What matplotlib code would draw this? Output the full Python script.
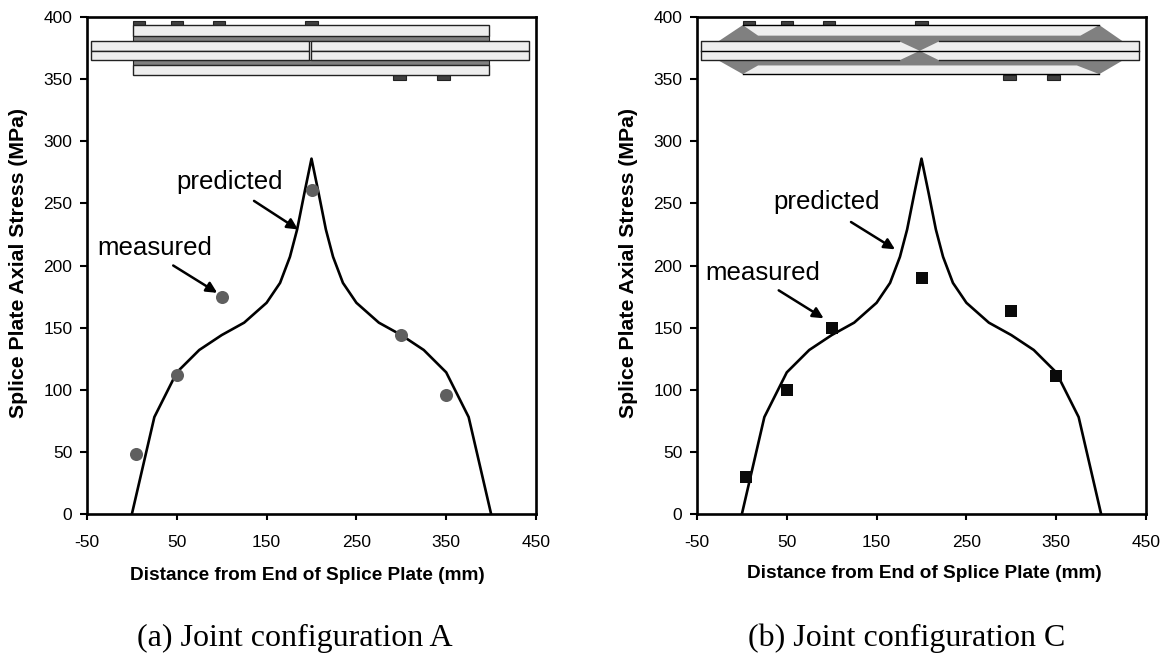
import matplotlib
matplotlib.use('Agg')
import matplotlib.pyplot as plt
from matplotlib.patches import Polygon, Rectangle

plt.rcParams['font.family'] = ['Liberation Sans', 'DejaVu Sans']
plt.rcParams['axes.unicode_minus'] = False

# predicted curve, same for both joints
dist = [0, 25, 50, 75, 100, 125, 150, 165, 176, 184, 192, 200,
        208, 216, 224, 235, 250, 275, 300, 325, 350, 375, 400]
predicted = [0, 78, 114, 132, 144, 154, 170, 186, 207, 229, 258, 286,
             258, 229, 207, 186, 170, 154, 144, 132, 114, 78, 0]

# measured values
meas_x = [5, 50, 100, 200, 300, 350]
meas_a = [48, 112, 175, 261, 144, 96]
meas_c = [30, 100, 150, 190, 163, 111]

x_ticks = [-50, 50, 150, 250, 350, 450]
y_ticks = [0, 50, 100, 150, 200, 250, 300, 350, 400]

xlabel = 'Distance from End of Splice Plate (mm)'
ylabel = 'Splice Plate Axial Stress (MPa)'

# gauge positions on the joint sketch
gauges_top = [8, 50, 97, 200]
gauges_bot = [298, 347]

LIGHT = '#eeeeee'
DARK = '#808080'
EDGE = '#222222'


def draw_gauges(ax):
    for g in gauges_top:
        ax.add_patch(Rectangle((g - 7, 393.5), 14, 3.5, fc='#404040', ec='#222222', lw=0.8, zorder=2))
    for g in gauges_bot:
        ax.add_patch(Rectangle((g - 7, 349), 14, 4.5, fc='#404040', ec='#222222', lw=0.8, zorder=2))


def sketch_a(ax):
    # dark adhesive layers
    ax.add_patch(Rectangle((1, 380.5), 397, 5, fc=DARK, ec=EDGE, lw=0.8, zorder=2))
    ax.add_patch(Rectangle((1, 361), 397, 4.5, fc=DARK, ec=EDGE, lw=0.8, zorder=2))
    # splice plates
    ax.add_patch(Rectangle((1, 385), 397, 8.5, fc=LIGHT, ec=EDGE, lw=1, zorder=3))
    ax.add_patch(Rectangle((1, 353.5), 397, 8, fc=LIGHT, ec=EDGE, lw=1, zorder=3))
    # main plates
    for x0, w in [(-45, 242), (199.5, 242.5)]:
        ax.add_patch(Rectangle((x0, 372.8), w, 7.7, fc=LIGHT, ec=EDGE, lw=1, zorder=3))
        ax.add_patch(Rectangle((x0, 365), w, 7.8, fc=LIGHT, ec=EDGE, lw=1, zorder=3))
    draw_gauges(ax)


def sketch_c(ax):
    # main plates first, the spew fillets sit over them
    ax.add_patch(Rectangle((-45, 365), 487, 15.5, fc=LIGHT, ec='none', zorder=2))
    top = [(-26, 380.5), (1, 393.5), (398, 393.5), (424, 380.5), (220, 380.5), (198, 372.8), (175, 380.5)]
    bot = [(-26, 365), (1, 354), (398, 354), (424, 365), (220, 365), (198, 372.8), (175, 365)]
    ax.add_patch(Polygon(top, fc=DARK, ec='none', zorder=3))
    ax.add_patch(Polygon(bot, fc=DARK, ec='none', zorder=3))
    # splice plates
    ax.add_patch(Polygon([(1, 393.5), (18, 385), (377, 385), (398, 393.5)], fc=LIGHT, ec='none', zorder=4))
    ax.add_patch(Polygon([(1, 354), (18, 361), (373, 361), (398, 354)], fc=LIGHT, ec='none', zorder=4))
    ax.plot([1, 398], [393.5, 393.5], color='black', lw=1, zorder=5)
    ax.plot([1, 398], [354, 354], color='black', lw=1, zorder=5)
    ax.plot([-45, 442], [372.8, 372.8], color='black', lw=1, zorder=5)
    # plate outline, broken where the fillet covers it
    ax.plot([175, -45, -45, 175], [380.5, 380.5, 365, 365], color=EDGE, lw=1, zorder=5)
    ax.plot([220, 442, 442, 220], [380.5, 380.5, 365, 365], color=EDGE, lw=1, zorder=5)
    draw_gauges(ax)


def make_panel(pos, ys, marker, color, size, caption, cap_x, xlab_x, xlab_y, ylab_x, notes):
    ax = fig.add_axes(pos)
    ax.plot(dist, predicted, color='black', lw=1.9, zorder=6)
    ax.plot(meas_x, ys, marker, color=color, ms=size, mew=0, zorder=7)
    ax.set_xlim(-50, 450)
    ax.set_ylim(0, 400)
    ax.set_xticks(x_ticks)
    ax.set_yticks(y_ticks)
    ax.tick_params(axis='y', length=5, width=1.5, labelsize=12.5, pad=5.5)
    ax.tick_params(axis='x', length=4.5, width=1.5, labelsize=12.5, pad=10.5)
    for s in ax.spines.values():
        s.set_linewidth(1.9)
    fig.text(xlab_x / W, 1 - xlab_y / H, xlabel, fontweight='bold', fontsize=13.7, ha='center', va='center')
    fig.text(ylab_x / W, 1 - 263 / H, ylabel, fontweight='bold', fontsize=15.3, rotation=90, ha='center', va='center')
    for txt, tx, ty, ax0, ay0, ax1, ay1 in notes:
        ax.text(tx, ty, txt, fontsize=18.6, va='center', ha='left', zorder=8)
        ax.annotate('', xy=(ax1, ay1), xytext=(ax0, ay0),
                    arrowprops=dict(arrowstyle='-|>', color='black', lw=1.8, mutation_scale=16,
                                    shrinkA=0, shrinkB=0), zorder=8)
    fig.text(cap_x / W, 1 - 638 / H, caption, family='Liberation Serif', fontsize=23, ha='center', va='center')
    return ax


fig = plt.figure(figsize=(11.65, 6.54), dpi=100)

W, H = 1165.0, 654.0
pos_a = [87 / W, 1 - 514 / H, 449 / W, 497 / H]
pos_c = [697 / W, 1 - 514 / H, 449 / W, 497 / H]

notes_a = [('predicted', 50, 267, 136, 252, 185, 229),
           ('measured', -38, 214, 46, 200, 95, 178)]
notes_c = [('predicted', 34.6, 251, 121.5, 235, 170.5, 213),
           ('measured', -41, 194, 41, 180, 91, 157.5)]

ax1 = make_panel(pos_a, meas_a, 'o', '#5f5f5f', 9.4, '(a) Joint configuration A', 295, 307, 575, 19, notes_a)
sketch_a(ax1)
ax2 = make_panel(pos_c, meas_c, 's', '#0a0a0a', 9.2, '(b) Joint configuration C', 907, 924, 573, 629, notes_c)
sketch_c(ax2)

fig.savefig('out.png', dpi=100)
